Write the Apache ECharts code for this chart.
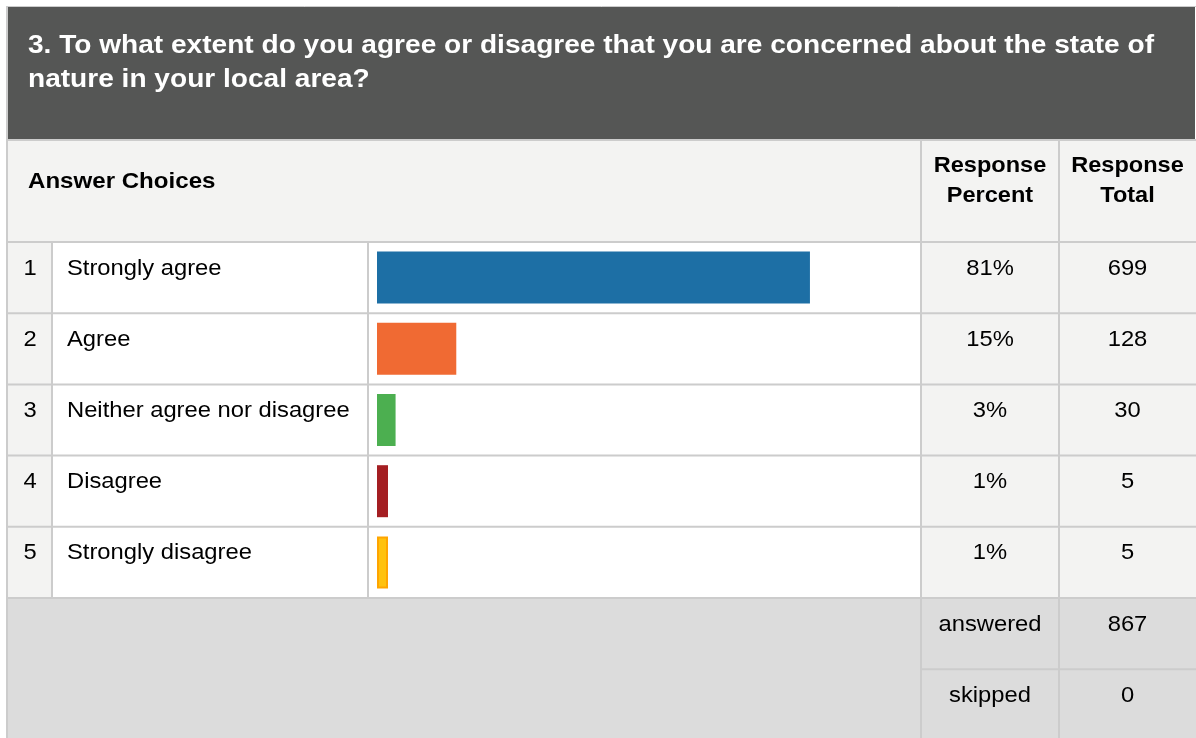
<!DOCTYPE html>
<html>
<head>
<meta charset="utf-8">
<script src="https://cdn.jsdelivr.net/npm/echarts@6/dist/echarts.min.js"></script>
<style>
html,body{margin:0;padding:0;background:#fff;}
#main{width:1196px;height:738px;}
</style>
</head>
<body>
<div id="main"></div>
<script>
var title = '3. To what extent do you agree or disagree that you are concerned about the state of\nnature in your local area?';
var categories = ['Strongly agree', 'Agree', 'Neither agree nor disagree', 'Disagree', 'Strongly disagree'];
var responseTotals = [699, 128, 30, 5, 5];
var responsePercents = ['81%', '15%', '3%', '1%', '1%'];
var barColors = ['#1d6fa5', '#f06a33', '#4caf50', '#a41e22', '#ffc20e'];
var barBorders = ['#1d6fa5', '#f06a33', '#4caf50', '#a41e22', '#ffa500'];
var answered = 867;
var skipped = 0;

var FONT = '"Liberation Sans", Arial, sans-serif';
var L = 8, R = 1196;
var colNum = 52, colLabel = 368, colPct = 921, colTot = 1059;
var rowTop = 242, rowH = 71.2;
var footTop = rowTop + rowH * categories.length;
var lineColor = '#cccccc';
var SX = 1.08;
var BODY = '22px ' + FONT;
var HEAD = 'bold 22px ' + FONT;

var g = [];
function txt(x, y, text, font, align, sx, extra){
  var st = {x:0, y:0, text:text, fill:'#000', font:font, align:align || 'left', verticalAlign:'middle'};
  if (extra) for (var k in extra) st[k] = extra[k];
  g.push({type:'text', x:x, y:y, scaleX:sx || SX, scaleY:1, z:20, style:st});
}
// title block
g.push({type:'rect', shape:{x:L, y:7, width:1187, height:132}, style:{fill:'#555655'}});
txt(28, 63, title, 'bold 26px ' + FONT, 'left', 1.08, {fill:'#fff', lineHeight:33.5});
// header row
g.push({type:'rect', shape:{x:L, y:140, width:R-L, height:rowTop-140}, style:{fill:'#f3f3f2'}});
txt(28, 182, 'Answer Choices', HEAD, 'left', 1.095);
txt((colPct+colTot)/2, 181, 'Response\nPercent', HEAD, 'center', 1.07, {lineHeight:30});
txt((colTot+R)/2, 181, 'Response\nTotal', HEAD, 'center', 1.07, {lineHeight:30});
// body rows
categories.forEach(function(c, i){
  var y0 = rowTop + rowH * i;
  g.push({type:'rect', shape:{x:L, y:y0, width:colNum-L, height:rowH}, style:{fill:'#f3f3f2'}});
  g.push({type:'rect', shape:{x:colPct, y:y0, width:R-colPct, height:rowH}, style:{fill:'#f3f3f2'}});
  txt(30, y0+26.5, String(i+1), BODY, 'center');
  txt(67, y0+26.5, c, BODY, 'left');
  txt((colPct+colTot)/2, y0+26.5, responsePercents[i], BODY, 'center');
  txt((colTot+R)/2, y0+26.5, String(responseTotals[i]), BODY, 'center');
});
// footer
g.push({type:'rect', shape:{x:L, y:footTop, width:R-L, height:738-footTop}, style:{fill:'#dcdcdc'}});
txt((colPct+colTot)/2, footTop+26.5, 'answered', BODY, 'center');
txt((colTot+R)/2, footTop+26.5, String(answered), BODY, 'center');
txt((colPct+colTot)/2, footTop+rowH+26.5, 'skipped', BODY, 'center');
txt((colTot+R)/2, footTop+rowH+26.5, String(skipped), BODY, 'center');
// grid lines
function hl(y, x1, x2, w){ g.push({type:'line', shape:{x1:x1, y1:y, x2:x2, y2:y}, style:{stroke:lineColor, lineWidth:w}}); }
function vl(x, y1, y2, w){ g.push({type:'line', shape:{x1:x, y1:y1, x2:x, y2:y2}, style:{stroke:lineColor, lineWidth:w}}); }
hl(6.5, 7, R, 1);
hl(140, L, R, 2);
for (var i = 0; i <= categories.length; i++) hl(rowTop + rowH*i, L, R, 2);
hl(footTop + rowH, colPct, R, 2);
vl(7, 6, 738, 2);
vl(colNum, rowTop, footTop, 2);
vl(colLabel, rowTop, footTop, 2);
vl(colPct, 140, 738, 2);
vl(colTot, 140, 738, 2);

var chart = echarts.init(document.getElementById('main'), null, {renderer:'canvas'});
chart.setOption({
  backgroundColor:'#fff',
  animation:false,
  graphic:{elements:g},
  grid:{left:377, top:rowTop, width:537, height:rowH*categories.length, containLabel:false},
  xAxis:{type:'value', min:0, max:answered, show:false},
  yAxis:{type:'category', inverse:true, data:categories, show:false},
  series:[{
    type:'bar', barWidth:52, barMinHeight:11, z:10,
    data:responseTotals.map(function(v, i){
      return {value:v, itemStyle:{color:barColors[i], borderColor:barBorders[i], borderWidth: i===4 ? 2 : 0}};
    })
  }]
});
</script>
</body>
</html>
